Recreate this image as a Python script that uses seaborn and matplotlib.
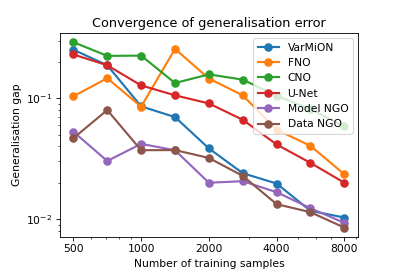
import numpy as np
import pandas as pd
import matplotlib
matplotlib.use("Agg")
import matplotlib.pyplot as plt
import matplotlib.ticker as mticker
import seaborn as sns

samples = [500, 707, 1000, 1414, 2000, 2828, 4000, 5657, 8000]
models = ["VarMiON", "FNO", "CNO", "U-Net", "Model NGO", "Data NGO"]
varmion = [0.253, 0.188, 0.0859, 0.070, 0.0385, 0.024, 0.0197, 0.0117, 0.0103]
fno = [0.104, 0.147, 0.0853, 0.257, 0.146, 0.106, 0.055, 0.0404, 0.0235]
cno = [0.292, 0.225, 0.226, 0.134, 0.158, 0.143, 0.105, 0.0815, 0.0585]
unet = [0.231, 0.188, 0.128, 0.106, 0.0908, 0.0665, 0.0415, 0.0292, 0.0200]
model_ngo = [0.0529, 0.0303, 0.042, 0.0372, 0.0200, 0.0206, 0.0167, 0.0123, 0.0093]
data_ngo = [0.0468, 0.080, 0.0372, 0.0373, 0.0321, 0.0228, 0.0133, 0.0114, 0.0085]
xticks = [500, 1000, 2000, 4000, 8000]

series = [varmion, fno, cno, unet, model_ngo, data_ngo]
df = pd.DataFrame({
    "samples": np.tile(samples, len(models)),
    "gap": np.concatenate(series),
    "model": np.repeat(models, len(samples)),
})

dpi = 77
fig = plt.figure(figsize=(399 / dpi, 279 / dpi), dpi=dpi)
ax = fig.add_axes([0.150, 0.151, 0.747, 0.731])
palette = sns.color_palette("tab10", len(models))
sns.lineplot(data=df, x="samples", y="gap", hue="model", hue_order=models,
             palette=palette, marker="o", markersize=8, markeredgewidth=0,
             linewidth=2, ax=ax)
ax.set_xscale("log")
ax.set_yscale("log")
ax.xaxis.set_major_locator(mticker.FixedLocator(xticks))
ax.xaxis.set_major_formatter(mticker.FixedFormatter([str(t) for t in xticks]))
ax.xaxis.set_minor_formatter(mticker.NullFormatter())
ax.set_xlabel("Number of training samples")
ax.set_ylabel("Generalisation gap")
ax.set_title("Convergence of generalisation error")
ax.legend(loc="upper right")
fig.savefig("out.png", dpi=dpi)
